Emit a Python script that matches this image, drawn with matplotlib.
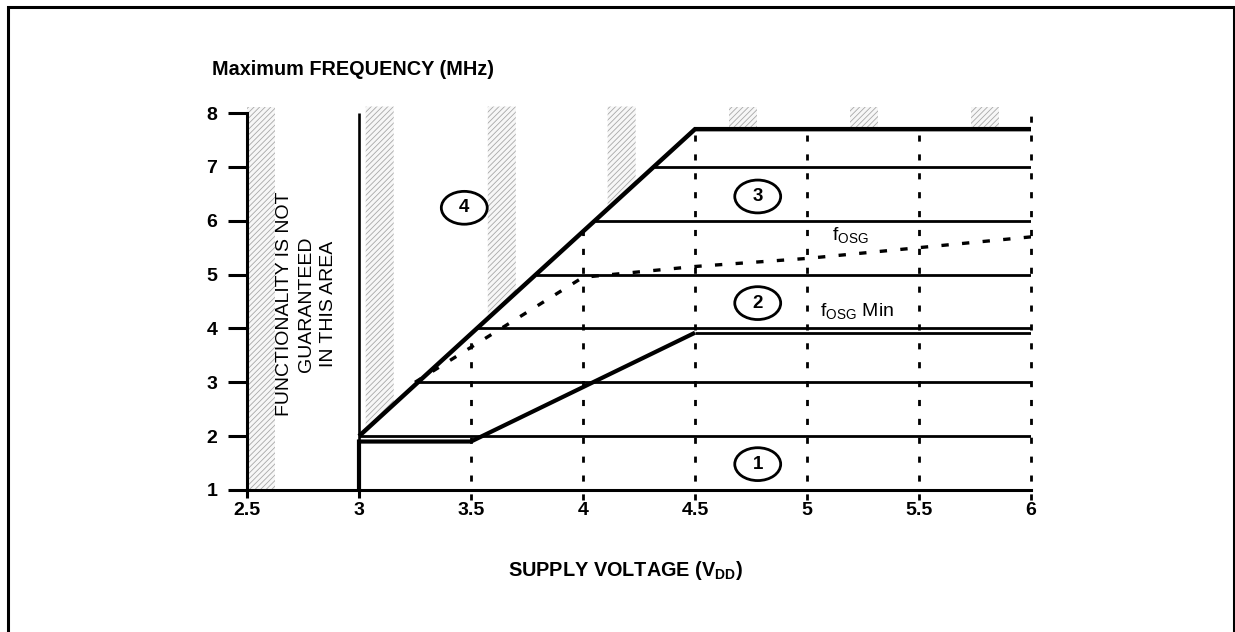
import matplotlib
matplotlib.use("Agg")
import matplotlib.pyplot as plt
from matplotlib.patches import Ellipse, Rectangle
import numpy as np

plt.rcParams['font.family'] = ['Liberation Sans', 'DejaVu Sans']
plt.rcParams['mathtext.fontset'] = 'custom'
plt.rcParams['mathtext.rm'] = 'Liberation Sans'
plt.rcParams['mathtext.bf'] = 'Liberation Sans:bold'
plt.rcParams['mathtext.it'] = 'Liberation Sans:italic'
plt.rcParams['hatch.linewidth'] = 0.6

# ---- data ----
x_ticks = [2.5, 3, 3.5, 4, 4.5, 5, 5.5, 6]
x_tick_labels = ["2.5", "3", "3.5", "4", "4.5", "5", "5.5", "6"]
y_ticks = [1, 2, 3, 4, 5, 6, 7, 8]

# upper operating boundary (region 4 limit)
upper_x = [3.0, 4.5, 6.0]
upper_y = [2.0, 7.7, 7.7]

# lower boundary (fOSG Min)
lower_x = [3.0, 3.0, 3.5, 4.5]
lower_y = [1.0, 1.9, 1.9, 3.92]
lower_flat_x = [4.5, 6.0]
lower_flat_y = [3.92, 3.92]

# fOSG curve
fosg_x = [3.25, 3.5, 3.75, 4.0, 4.5, 5.0, 5.5, 6.0]
fosg_y = [3.0, 3.65, 4.3, 4.95, 5.15, 5.3, 5.5, 5.7]

grid_y = [2, 3, 4, 5, 6, 7]
dashed_x = [3.5, 4.0, 4.5, 5.0, 5.5, 6.0]

band_starts = [2.5, 3.03, 3.575, 4.11, 4.65, 5.19, 5.73]
band_width = 0.125

region_labels = ["1", "2", "3", "4"]
region_x = [4.78, 4.78, 4.78, 3.47]
region_y = [1.48, 4.47, 6.45, 6.24]


def boundary(x):
    x = np.asarray(x, dtype=float)
    return np.interp(x, upper_x, upper_y)


fig = plt.figure(figsize=(12.35, 6.32), dpi=100)
ax = fig.add_axes([247/1235, (632-490)/632, (1031-247)/1235, (490-113)/632])
ax.set_xlim(2.5, 6)
ax.set_ylim(1, 8)

# hatched bands
for i, b in enumerate(band_starts):
    xs = np.linspace(b, b + band_width, 30)
    if i == 0:
        lo = np.ones_like(xs)
    else:
        lo = boundary(xs)
    ax.fill_between(xs, lo, 8.12, facecolor='#f7f7f7', edgecolor='#a8a8a8',
                    hatch='//////', linewidth=0, zorder=1, clip_on=False)

# horizontal grid lines from the upper boundary to 6
for gy in grid_y:
    x0 = 3 + (gy - 2) / 3.8
    ax.plot([x0, 6], [gy, gy], color='black', lw=2.0, zorder=3,
            solid_capstyle='butt')

# vertical solid line at 3
ax.plot([3, 3], [1, 8], color='black', lw=1.9, zorder=3, solid_capstyle='butt')

# dashed verticals
for dx in dashed_x:
    top = 8.0 if dx == 6.0 else float(boundary(dx))
    ax.plot([dx, dx], [0.82, top], color='black', lw=2.0, zorder=3,
            dashes=(2.2, 4.6), clip_on=False)

# upper boundary
ax.plot(upper_x, upper_y, color='black', lw=3.2, zorder=5,
        solid_joinstyle='miter', solid_capstyle='butt')
# lower boundary
ax.plot(lower_x, lower_y, color='black', lw=3.0, zorder=5,
        solid_joinstyle='miter', solid_capstyle='butt')
ax.plot(lower_flat_x, lower_flat_y, color='black', lw=2.0, zorder=5,
        solid_capstyle='butt')

# fOSG dashed curve
ax.plot(fosg_x, fosg_y, color='black', lw=2.4, zorder=5, dashes=(2.2, 4.0))

# region labels in ellipses
for lab, rx, ry in zip(region_labels, region_x, region_y):
    ax.add_patch(Ellipse((rx, ry), width=0.205, height=0.61, fill=True,
                         facecolor='white', edgecolor='black', lw=2.0, zorder=6))
    ax.text(rx, ry, lab, ha='center', va='center', fontsize=13.5,
            fontweight='bold', zorder=7)

# text labels
ax.text(5.11, 5.64, r'f$_{\mathrm{OSG}}$', fontsize=14, ha='left',
        va='baseline', zorder=7)
ax.text(5.06, 4.24, r'f$_{\mathrm{OSG}}$ Min', fontsize=14, ha='left',
        va='baseline', zorder=7)

ax.text(2.765, 4.45, "FUNCTIONALITY IS NOT\nGUARANTEED\nIN THIS AREA",
        rotation=90, ha='center', va='center', multialignment='center',
        fontsize=14, linespacing=1.4, zorder=7)

ax.text(2.343, 8.71, "Maximum FREQUENCY (MHz)", fontsize=14.3,
        fontweight='bold', ha='left', va='baseline', clip_on=False)
ax.text(3.663, -0.6, r'SUPPLY VOLTAGE (V$_{\mathbf{DD}}$)', fontsize=14.3,
        fontweight='bold', ha='left', va='baseline', clip_on=False)

# spines & ticks
for s in ['top', 'right']:
    ax.spines[s].set_visible(False)
for s in ['left', 'bottom']:
    ax.spines[s].set_linewidth(2.2)
    ax.spines[s].set_zorder(6)

ax.set_xticks(x_ticks)
ax.set_xticklabels(x_tick_labels)
ax.set_yticks(y_ticks)
ax.set_yticklabels([str(v) for v in y_ticks])
ax.tick_params(axis='y', direction='out', length=13.5, width=2.2, pad=8,
               labelsize=14)
ax.tick_params(axis='x', direction='out', length=0, width=2.2, pad=8.5,
               labelsize=14)
for lbl in ax.get_xticklabels() + ax.get_yticklabels():
    lbl.set_fontweight('bold')

# short solid ticks at 2.5 and 3
for tx in [2.5, 3.0]:
    ax.plot([tx, tx], [1, 0.85], color='black', lw=2.2, clip_on=False,
            solid_capstyle='butt', zorder=6)

# figure border
fig.patches.append(Rectangle((7.5/1235, -0.02), (1234 - 7.5)/1235,
                             (632 - 7)/632 + 0.02, transform=fig.transFigure,
                             fill=False, edgecolor='black', lw=2.2))

fig.savefig("out.png", dpi=100)
